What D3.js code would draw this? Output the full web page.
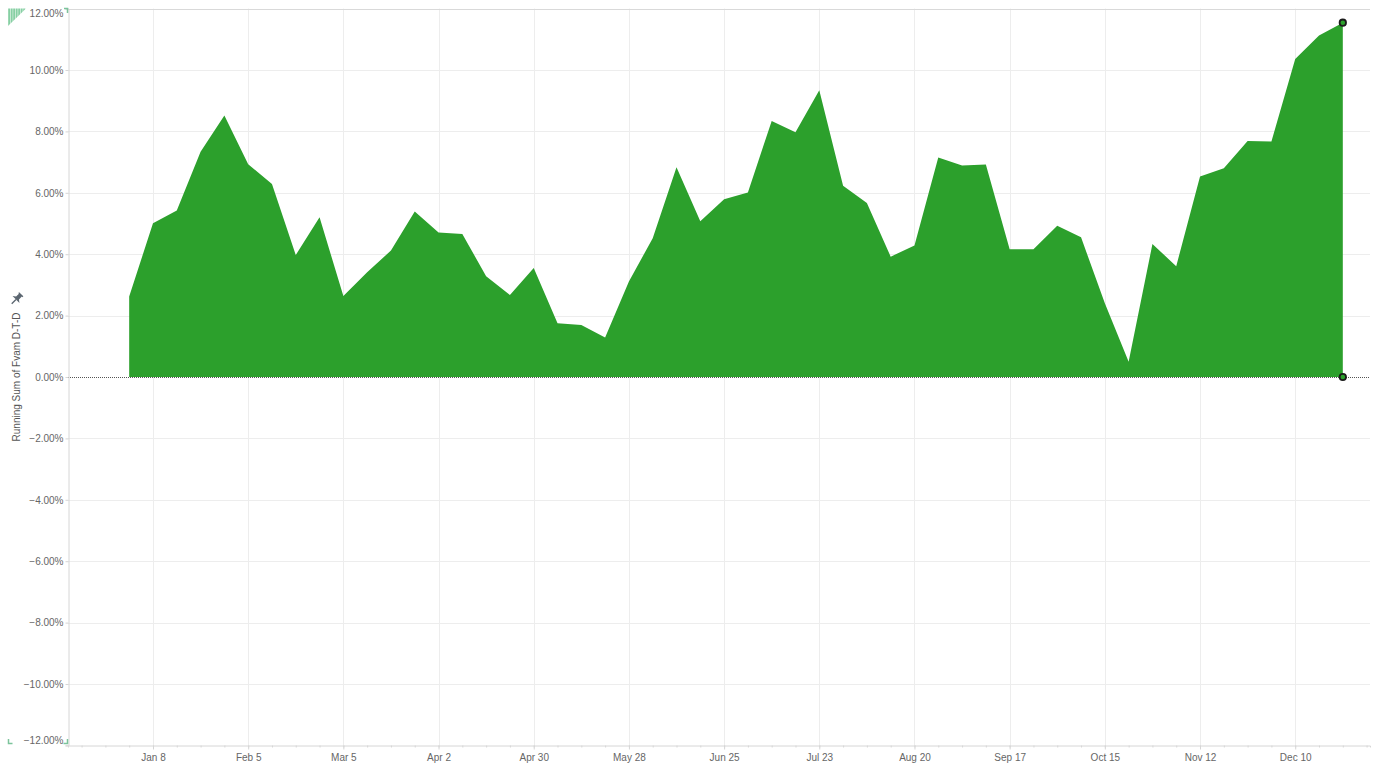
<!DOCTYPE html>
<html>
<head>
<meta charset="utf-8">
<script src="https://cdn.jsdelivr.net/npm/d3@7"></script>
<style>
  html, body { margin: 0; padding: 0; background: #fff; }
  svg { display: block; font-family: Arial, "Liberation Sans", Helvetica, sans-serif; }
  svg text { font-family: Arial, "Liberation Sans", Helvetica, sans-serif; }
</style>
</head>
<body>
<svg id="chart" width="1377" height="763"></svg>
<script>
// ---- data ----
const weeks = [
  "2018-01-01","2018-01-08","2018-01-15","2018-01-22","2018-01-29",
  "2018-02-05","2018-02-12","2018-02-19","2018-02-26",
  "2018-03-05","2018-03-12","2018-03-19","2018-03-26",
  "2018-04-02","2018-04-09","2018-04-16","2018-04-23","2018-04-30",
  "2018-05-07","2018-05-14","2018-05-21","2018-05-28",
  "2018-06-04","2018-06-11","2018-06-18","2018-06-25",
  "2018-07-02","2018-07-09","2018-07-16","2018-07-23","2018-07-30",
  "2018-08-06","2018-08-13","2018-08-20","2018-08-27",
  "2018-09-03","2018-09-10","2018-09-17","2018-09-24",
  "2018-10-01","2018-10-08","2018-10-15","2018-10-22","2018-10-29",
  "2018-11-05","2018-11-12","2018-11-19","2018-11-26",
  "2018-12-03","2018-12-10","2018-12-17","2018-12-24"
];
const runningSum = [
  2.62, 5.01, 5.42, 7.34, 8.52,
  6.93, 6.29, 3.97, 5.20,
  2.64, 3.41, 4.12, 5.39,
  4.71, 4.66, 3.28, 2.67, 3.55,
  1.75, 1.69, 1.29, 3.11,
  4.52, 6.83, 5.07, 5.79,
  6.01, 8.34, 7.97, 9.34, 6.23,
  5.67, 3.92, 4.28, 7.15,
  6.89, 6.92, 4.16, 4.16,
  4.93, 4.55, 2.40, 0.50, 4.33,
  3.61, 6.53, 6.80, 7.69,
  7.67, 10.36, 11.12, 11.54
];
const yTicks = [-12, -10, -8, -6, -4, -2, 0, 2, 4, 6, 8, 10, 12];
const xLabelDates = ["2018-01-08","2018-02-05","2018-03-05","2018-04-02","2018-04-30","2018-05-28",
                     "2018-06-25","2018-07-23","2018-08-20","2018-09-17","2018-10-15","2018-11-12","2018-12-10"];
const xDomain = ["2017-12-14","2019-01-01"];
const yLabel = "Running Sum of Fvam D-T-D";

// ---- layout ----
const FONT = "Arial, 'Liberation Sans', Helvetica, sans-serif";
const parse = d3.utcParse("%Y-%m-%d");
const data = weeks.map((w, i) => ({ date: parse(w), value: runningSum[i] }));
const pLeft = 68, pRight = 1370, pTop = 8.6, pBottom = 745.4;

const svg = d3.select("#chart");
const x = d3.scaleUtc().domain(xDomain.map(parse)).range([pLeft, pRight]);
const y = d3.scaleLinear().domain([-12, 12]).range([pBottom, pTop]);

const fmtDate = d3.utcFormat("%b %-d");
const labelDates = xLabelDates.map(parse);
const minorDates = d3.utcMonday.range(parse("2017-12-15"), parse("2019-01-01"));

// horizontal gridlines
svg.append("g").selectAll("line").data(yTicks.filter(t => t !== 0 && t !== 12 && t !== -12)).join("line")
  .attr("x1", pLeft).attr("x2", pRight)
  .attr("y1", d => Math.round(y(d)) + 0.5).attr("y2", d => Math.round(y(d)) + 0.5)
  .attr("stroke", "#ededed").attr("stroke-width", 1);

// vertical gridlines
svg.append("g").selectAll("line").data(labelDates).join("line")
  .attr("x1", d => Math.round(x(d)) + 0.5).attr("x2", d => Math.round(x(d)) + 0.5)
  .attr("y1", pTop).attr("y2", pBottom)
  .attr("stroke", "#ededed").attr("stroke-width", 1);

// area
const area = d3.area()
  .x(d => x(d.date))
  .y0(y(0))
  .y1(d => y(d.value));
svg.append("path").datum(data)
  .attr("d", area)
  .attr("fill", "#2ca02c");

// zero line (dotted)
svg.append("line")
  .attr("x1", pLeft).attr("x2", pRight)
  .attr("y1", Math.round(y(0)) + 0.5).attr("y2", Math.round(y(0)) + 0.5)
  .attr("stroke", "#555").attr("stroke-width", 1)
  .attr("stroke-dasharray", "1,1");

// top border
svg.append("line")
  .attr("x1", pLeft).attr("x2", pRight)
  .attr("y1", Math.round(pTop) + 0.5).attr("y2", Math.round(pTop) + 0.5)
  .attr("stroke", "#d9d9d9");

// y axis
const yAxis = d3.axisLeft(y).tickValues(yTicks).tickSize(3)
  .tickFormat(d => d3.format(".2f")(d) + "%");
const gy = svg.append("g").attr("transform", `translate(${pLeft + 0.5},0)`).call(yAxis);
gy.attr("font-family", FONT);
gy.select(".domain").attr("stroke", "#d6d6d6");
gy.selectAll(".tick line").attr("stroke", "#d6d6d6");
gy.selectAll(".tick text").attr("fill", "#666").attr("font-size", 10).attr("x", -5);
gy.selectAll(".tick").filter(d => d === 12).select("text").attr("dy", "0.75em");
gy.selectAll(".tick").filter(d => d === -12).select("text").attr("dy", "-0.15em");

// x axis: minor weekly ticks
const xMinor = d3.axisBottom(x).tickValues(minorDates).tickSize(2).tickFormat("");
const gxm = svg.append("g").attr("transform", `translate(0,${Math.round(pBottom) + 0.5})`).call(xMinor);
gxm.select(".domain").attr("stroke", "#d6d6d6");
gxm.selectAll(".tick line").attr("stroke", "#d6d6d6");

// x axis: labeled ticks
const xAxis = d3.axisBottom(x).tickValues(labelDates).tickSize(4).tickFormat(fmtDate);
const gx = svg.append("g").attr("transform", `translate(0,${Math.round(pBottom) + 0.5})`).call(xAxis);
gx.attr("font-family", FONT);
gx.select(".domain").remove();
gx.selectAll(".tick line").attr("stroke", "#d6d6d6");
gx.selectAll(".tick text").attr("fill", "#666").attr("font-size", 10)
  .attr("y", 15).attr("dy", "0");

// y label
svg.append("text")
  .attr("transform", `translate(19.5,${(pTop + pBottom) / 2}) rotate(-90)`)
  .attr("text-anchor", "middle")
  .attr("font-size", 10)
  .attr("font-family", FONT)
  .attr("fill", "#555")
  .text(yLabel);

// pin icon (head upper-right, needle lower-left)
const pin = svg.append("g").attr("transform", "translate(16,299.5) rotate(45) scale(1.35)").attr("fill", "#5b6670");
pin.append("path").attr("d", "M-2.2,-5.5 L2.2,-5.5 L2.2,-4.6 L1.5,-4.6 L1.5,-1.6 L3.6,0 L-3.6,0 L-1.5,-1.6 L-1.5,-4.6 L-2.2,-4.6 Z");
pin.append("rect").attr("x", -0.5).attr("y", 0).attr("width", 1).attr("height", 4.5);

// end markers
const last = data[data.length - 1];
svg.append("g").selectAll("circle").data([last.value, 0]).join("circle")
  .attr("cx", x(last.date)).attr("cy", d => y(d)).attr("r", 3.2)
  .attr("fill", "#2ca02c").attr("stroke", "#1b1b1b").attr("stroke-width", 1.8);

// corner decorations
const defs = svg.append("defs");
const pat = defs.append("pattern").attr("id", "hatch").attr("patternUnits", "userSpaceOnUse")
  .attr("width", 2.5).attr("height", 4);
pat.append("rect").attr("width", 2.5).attr("height", 4).attr("fill", "#86cfa3");
pat.append("rect").attr("width", 0.8).attr("height", 4).attr("fill", "#d2eedd");
svg.append("path").attr("d", "M8,8.5 L26,8.5 L8,26 Z").attr("fill", "url(#hatch)");
svg.append("path").attr("d", "M64,8.5 L67.5,8.5 L67.5,13").attr("fill", "none").attr("stroke", "#7cc49c").attr("stroke-width", 1.5);
svg.append("path").attr("d", "M8.5,739 L8.5,743.5 L12.5,743.5").attr("fill", "none").attr("stroke", "#7cc49c").attr("stroke-width", 1.5);
svg.append("path").attr("d", "M67.5,739 L67.5,743.5 L63.5,743.5").attr("fill", "none").attr("stroke", "#7cc49c").attr("stroke-width", 1.5);
</script>
</body>
</html>
